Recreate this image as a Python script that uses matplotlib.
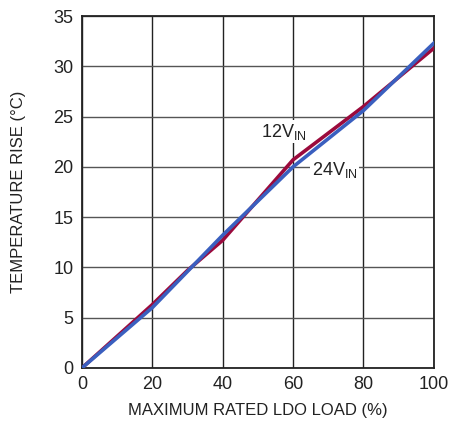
import matplotlib
matplotlib.use('Agg')
import matplotlib.pyplot as plt

# values
load_pct = [0, 20, 30, 40, 60, 80, 100]
rise_12v = [0, 6.3, 9.7, 12.7, 20.7, 26.0, 31.8]
rise_24v = [0, 6.0, 9.6, 13.2, 20.0, 25.6, 32.3]

x_ticks = [0, 20, 40, 60, 80, 100]
y_ticks = [0, 5, 10, 15, 20, 25, 30, 35]

plt.rcParams['font.family'] = ['Liberation Sans', 'DejaVu Sans']

fig = plt.figure(figsize=(4.5, 4.22), dpi=100)
ax = fig.add_axes([0.182, 0.128, 0.782, 0.834])

ax.plot(load_pct, rise_12v, color='#9b0a3c', linewidth=2.6, zorder=3)
ax.plot(load_pct, rise_24v, color='#3a5fbf', linewidth=2.6, zorder=4)

ax.set_xlim(0, 100)
ax.set_ylim(0, 35)
ax.set_xticks(x_ticks)
ax.set_yticks(y_ticks)
ax.xaxis.grid(color='#222222', linewidth=1.0)
ax.yaxis.grid(color='#555555', linewidth=1.0)
ax.tick_params(length=0, labelsize=13, pad=6, colors='#222222')
for s in ax.spines.values():
    s.set_color('#222222')
    s.set_linewidth(1.3)

ax.set_xlabel('MAXIMUM RATED LDO LOAD (%)', fontsize=12, color='#222222', labelpad=7)
ax.set_ylabel('TEMPERATURE RISE (°C)', fontsize=12, color='#222222', labelpad=20)

box = dict(facecolor='white', edgecolor='none', pad=1)
ax.text(51, 23.0, '12V$_{\\mathregular{IN}}$', fontsize=13, color='#222222',
        va='baseline', bbox=box, zorder=5)
ax.text(65.3, 19.2, '24V$_{\\mathregular{IN}}$', fontsize=13, color='#222222',
        va='baseline', bbox=box, zorder=5)

fig.savefig('out.png', dpi=100)
